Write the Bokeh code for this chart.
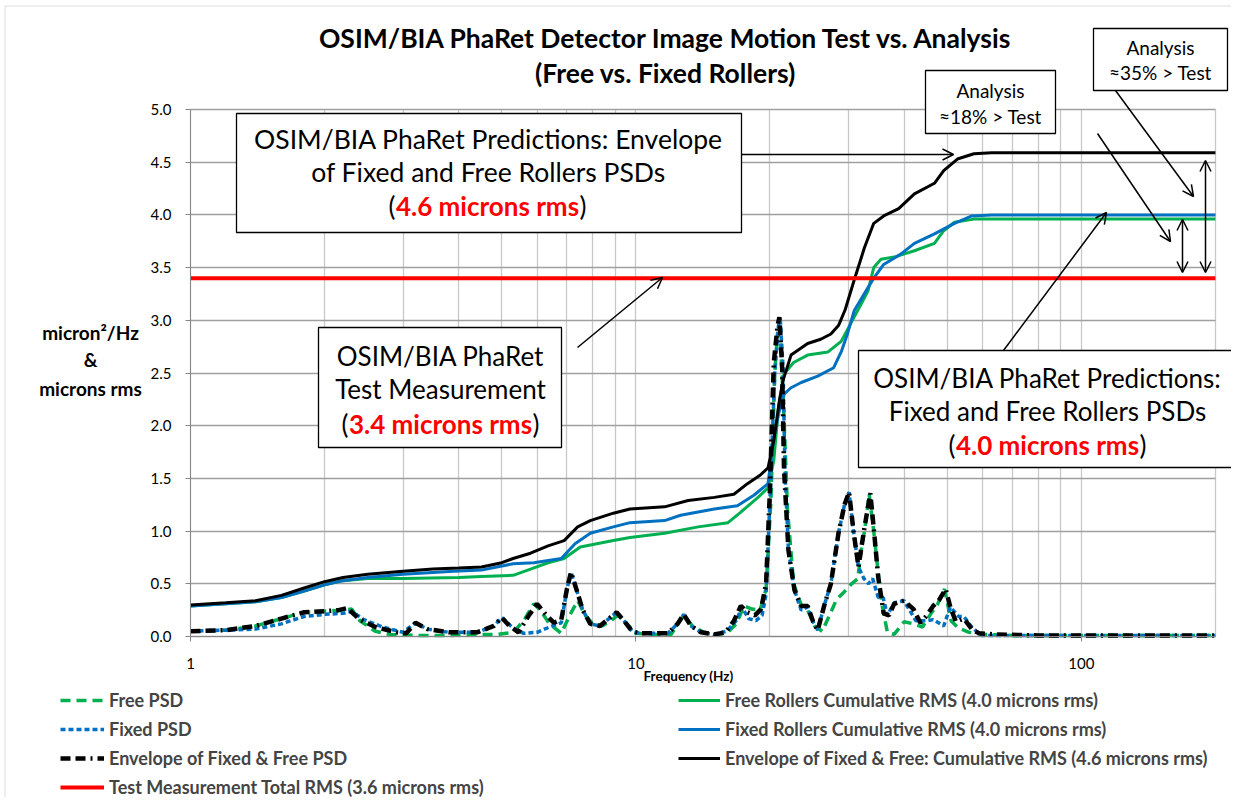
from bokeh.plotting import figure
from bokeh.models import (Range1d, FixedTicker, PrintfTickFormatter, NumeralTickFormatter,
                          Label, BoxAnnotation, Arrow, OpenHead, Legend, LegendItem)
from bokeh.embed import file_html
from bokeh.resources import INLINE

FONT = "Lato"

# ---------------- data ----------------
free_psd_f = [1.0, 1.2, 1.4, 1.6, 1.8, 2.0, 2.2, 2.3, 2.4, 2.6, 2.8, 3.2, 3.8, 4.4, 4.9, 5.3, 5.6, 5.9, 6.1,
              6.4, 6.8, 7.1, 7.4, 7.7, 8.0, 8.4, 8.8, 9.1, 9.5, 10.0, 11.0, 12.0, 12.8, 13.4, 14.2, 15.0, 16.0,
              16.8, 17.5, 18.2, 19.0, 19.6, 20.1, 20.5, 20.8, 21.1, 21.4, 21.9, 22.6, 23.5, 24.3, 25.2, 26.2,
              27.2, 28.2, 29.3, 30.5, 31.5, 32.0, 32.6, 33.4, 34.2, 35.0, 35.7, 36.7, 38.0, 40.0, 42.0, 44.0,
              46.0, 47.5, 49.3, 51.0, 53.0, 56.0, 60.0, 70.0, 100.0, 130.0, 160.0, 200.0]
free_psd_v = [0.05, 0.06, 0.10, 0.17, 0.23, 0.24, 0.25, 0.26, 0.15, 0.05, 0.02, 0.01, 0.01, 0.02, 0.02, 0.04,
              0.15, 0.31, 0.25, 0.12, 0.03, 0.20, 0.34, 0.20, 0.12, 0.10, 0.15, 0.20, 0.13, 0.03, 0.02, 0.02,
              0.20, 0.10, 0.04, 0.02, 0.03, 0.12, 0.29, 0.26, 0.25, 0.45, 1.30, 2.50, 2.88, 2.80, 2.30, 1.20,
              0.50, 0.30, 0.25, 0.10, 0.05, 0.20, 0.35, 0.42, 0.50, 0.55, 0.80, 1.00, 1.35, 1.00, 0.60, 0.30,
              0.04, 0.02, 0.14, 0.12, 0.09, 0.22, 0.30, 0.45, 0.15, 0.08, 0.04, 0.02, 0.01, 0.01, 0.01, 0.01,
              0.01]

fixed_psd_f = [1.0, 1.2, 1.4, 1.6, 1.8, 2.0, 2.2, 2.3, 2.45, 2.7, 3.0, 3.2, 3.4, 3.8, 4.4, 4.8, 5.0, 5.3, 5.6,
               6.0, 6.4, 6.8, 7.0, 7.15, 7.35, 7.6, 7.9, 8.3, 8.7, 9.05, 9.4, 9.8, 10.2, 11.0, 11.8, 12.4, 12.8,
               13.3, 14.0, 15.0, 16.0, 16.8, 17.3, 17.9, 18.6, 19.2, 19.6, 20.0, 20.5, 20.9, 21.1, 21.4, 21.6,
               22.0, 22.7, 23.5, 24.3, 25.0, 25.6, 26.5, 27.4, 28.5, 29.4, 30.1, 30.8, 31.6, 32.5, 33.3, 34.0,
               35.0, 35.9, 36.7, 38.0, 40.0, 42.5, 45.0, 46.5, 49.1, 50.8, 53.0, 54.5, 56.5, 59.5, 70.0, 100.0,
               130.0, 160.0, 200.0]
fixed_psd_v = [0.05, 0.06, 0.07, 0.12, 0.19, 0.21, 0.22, 0.24, 0.16, 0.09, 0.04, 0.13, 0.07, 0.04, 0.04, 0.10,
               0.18, 0.08, 0.03, 0.04, 0.09, 0.13, 0.45, 0.61, 0.45, 0.25, 0.12, 0.10, 0.17, 0.23, 0.15, 0.05,
               0.03, 0.03, 0.03, 0.12, 0.21, 0.10, 0.04, 0.02, 0.05, 0.15, 0.28, 0.17, 0.15, 0.20, 0.40, 1.30,
               2.50, 2.95, 3.00, 2.55, 1.60, 0.82, 0.44, 0.25, 0.28, 0.14, 0.06, 0.30, 0.50, 0.98, 1.25, 1.37,
               1.00, 0.66, 0.55, 0.50, 0.55, 0.37, 0.37, 0.20, 0.32, 0.34, 0.15, 0.15, 0.16, 0.10, 0.28, 0.19,
               0.19, 0.10, 0.01, 0.01, 0.01, 0.01, 0.01, 0.01]

env_psd_f = [1.0, 1.2, 1.4, 1.6, 1.8, 2.0, 2.15, 2.25, 2.4, 2.6, 2.9, 3.05, 3.2, 3.4, 3.8, 4.4, 4.8, 5.0, 5.2,
             5.45, 5.75, 6.0, 6.3, 6.55, 6.8, 7.0, 7.15, 7.35, 7.6, 7.9, 8.3, 8.7, 9.05, 9.4, 9.8, 10.2, 11.0,
             11.8, 12.4, 12.8, 13.3, 14.0, 15.0, 15.9, 16.6, 17.2, 17.8, 18.5, 19.1, 19.6, 20.0, 20.4, 20.8,
             21.0, 21.3, 21.5, 22.0, 22.7, 23.5, 24.3, 25.0, 25.6, 26.5, 27.4, 28.5, 29.4, 30.1, 30.8, 31.6,
             32.5, 33.6, 34.3, 35.0, 36.0, 37.0, 38.0, 40.0, 42.0, 43.5, 45.0, 46.5, 48.0, 49.6, 50.8, 52.3,
             54.5, 57.0, 59.0, 64.0, 80.0, 100.0, 130.0, 160.0, 200.0]
env_psd_v = [0.05, 0.06, 0.10, 0.17, 0.23, 0.24, 0.25, 0.27, 0.16, 0.09, 0.04, 0.03, 0.13, 0.07, 0.04, 0.04,
             0.10, 0.18, 0.10, 0.04, 0.20, 0.31, 0.20, 0.13, 0.16, 0.45, 0.61, 0.45, 0.25, 0.12, 0.10, 0.17,
             0.23, 0.15, 0.05, 0.03, 0.03, 0.03, 0.12, 0.21, 0.10, 0.04, 0.02, 0.04, 0.15, 0.29, 0.23, 0.20,
             0.26, 0.50, 1.40, 2.60, 2.95, 3.03, 2.55, 1.60, 0.82, 0.44, 0.29, 0.29, 0.14, 0.06, 0.30, 0.50,
             0.98, 1.25, 1.37, 1.00, 0.66, 1.00, 1.36, 0.97, 0.56, 0.22, 0.20, 0.31, 0.34, 0.26, 0.13, 0.20,
             0.29, 0.35, 0.45, 0.28, 0.14, 0.17, 0.06, 0.03, 0.02, 0.01, 0.01, 0.01, 0.01, 0.01]

free_cum_f = [1.0, 1.2, 1.4, 1.6, 1.8, 2.0, 2.2, 2.5, 3.0, 4.0, 4.5, 5.3, 5.8, 6.35, 6.9, 7.5, 8.9, 9.7, 11.6,
              13.8, 16.1, 17.2, 18.8, 19.8, 20.4, 20.9, 21.5, 22.6, 24.3, 27.0, 28.9, 30.9, 32.0, 33.2, 34.2,
              35.5, 38.0, 42.2, 46.8, 49.1, 51.9, 57.4, 80.0, 100.0, 150.0, 200.0]
free_cum_v = [0.29, 0.31, 0.33, 0.37, 0.43, 0.49, 0.53, 0.55, 0.55, 0.56, 0.57, 0.58, 0.64, 0.70, 0.74, 0.85,
              0.91, 0.94, 0.98, 1.04, 1.08, 1.18, 1.32, 1.41, 1.67, 2.17, 2.49, 2.60, 2.67, 2.70, 2.80, 3.03,
              3.15, 3.28, 3.50, 3.58, 3.60, 3.66, 3.73, 3.85, 3.93, 3.96, 3.96, 3.96, 3.96, 3.96]

fixed_cum_f = [1.0, 1.2, 1.4, 1.6, 1.8, 2.0, 2.2, 2.5, 3.0, 3.9, 4.5, 5.3, 5.9, 6.8, 7.3, 7.9, 8.9, 9.7, 11.6,
               12.6, 15.0, 16.9, 18.4, 19.8, 20.3, 20.9, 21.5, 22.3, 23.5, 25.6, 27.8, 28.9, 29.9, 30.9, 33.2,
               34.2, 36.0, 39.4, 42.2, 46.8, 51.9, 56.8, 62.9, 80.0, 100.0, 150.0, 200.0]
fixed_cum_v = [0.29, 0.31, 0.33, 0.37, 0.43, 0.49, 0.53, 0.56, 0.59, 0.62, 0.63, 0.69, 0.70, 0.74, 0.88, 0.98,
               1.04, 1.08, 1.10, 1.15, 1.21, 1.24, 1.34, 1.45, 1.83, 2.11, 2.30, 2.36, 2.41, 2.47, 2.55, 2.70,
               2.88, 3.09, 3.31, 3.40, 3.53, 3.63, 3.73, 3.82, 3.92, 3.99, 4.00, 4.00, 4.00, 4.00, 4.00]

env_cum_f = [1.0, 1.2, 1.4, 1.6, 1.8, 2.0, 2.2, 2.5, 3.0, 3.5, 4.0, 4.5, 5.0, 5.3, 5.8, 6.35, 6.9, 7.4, 7.9,
             8.9, 9.7, 11.6, 13.1, 15.0, 16.6, 17.8, 19.0, 19.8, 20.4, 21.0, 21.4, 22.3, 24.3, 26.0, 27.4, 28.5,
             29.5, 30.9, 32.6, 34.2, 36.0, 38.9, 42.2, 46.8, 49.1, 52.7, 57.4, 62.9, 80.0, 100.0, 150.0, 200.0]
env_cum_v = [0.30, 0.32, 0.34, 0.39, 0.46, 0.52, 0.56, 0.59, 0.62, 0.64, 0.65, 0.66, 0.70, 0.74, 0.79, 0.86,
             0.91, 1.04, 1.10, 1.17, 1.21, 1.23, 1.29, 1.32, 1.35, 1.45, 1.53, 1.60, 1.86, 2.24, 2.43, 2.67,
             2.78, 2.82, 2.87, 2.95, 3.10, 3.38, 3.69, 3.92, 3.99, 4.06, 4.20, 4.30, 4.42, 4.53, 4.58, 4.59,
             4.59, 4.59, 4.59, 4.59]

test_f = [1.0, 200.0]
test_level = [3.4, 3.4]

x_major_ticks = [1, 10, 100]
x_minor_ticks = [2, 3, 4, 5, 6, 7, 8, 9, 20, 30, 40, 50, 60, 70, 80, 90, 200]
y_ticks = [0.0, 0.5, 1.0, 1.5, 2.0, 2.5, 3.0, 3.5, 4.0, 4.5, 5.0]
x_bounds = (1, 200)
y_bounds = (0, 5)

title_lines = ["OSIM/BIA PhaRet Detector Image Motion Test vs. Analysis", "(Free vs. Fixed Rollers)"]
y_label_lines = ["micron\u00b2/Hz", "&", "microns rms"]

# ---------------- layout geometry (pixels) ----------------
W, H = 1231, 797          # canvas
PX_X1, PX_Y0 = 190, 636   # pixel of x = 1 and of y = 0
DEC, UNIT = 445.4, 105.4  # pixels per decade / per y unit

p = figure(width=W, height=H, x_axis_type="log",
           x_range=Range1d(10 ** (-PX_X1 / DEC), 10 ** ((W - PX_X1) / DEC)),
           y_range=Range1d(-(H - PX_Y0) / UNIT, PX_Y0 / UNIT),
           output_backend="svg", toolbar_location=None,
           min_border_left=0, min_border_right=0, min_border_top=0, min_border_bottom=0)
p.outline_line_color = None
p.background_fill_color = "white"
p.border_fill_color = "white"

p.xaxis.fixed_location = 0
p.xaxis.bounds = x_bounds
p.xaxis.ticker = FixedTicker(ticks=x_major_ticks, minor_ticks=x_minor_ticks)
p.xaxis.formatter = PrintfTickFormatter(format="%d")
p.xaxis.minor_tick_line_color = None
p.xaxis.major_tick_in = 0
p.xaxis.major_tick_out = 5
p.xaxis.axis_line_color = "#868686"
p.xaxis.major_tick_line_color = "#868686"
p.xaxis.major_label_text_font = FONT
p.xaxis.major_label_text_font_size = "15px"
p.xaxis.major_label_text_color = "#000000"
p.xaxis.major_label_standoff = 16

p.yaxis.fixed_location = 1
p.yaxis.bounds = y_bounds
p.yaxis.ticker = FixedTicker(ticks=y_ticks)
p.yaxis.formatter = NumeralTickFormatter(format="0.0")
p.yaxis.minor_tick_line_color = None
p.yaxis.major_tick_in = 0
p.yaxis.major_tick_out = 5
p.yaxis.axis_line_color = "#868686"
p.yaxis.major_tick_line_color = "#868686"
p.yaxis.major_label_text_font = FONT
p.yaxis.major_label_text_font_size = "15px"
p.yaxis.major_label_text_color = "#000000"
p.yaxis.major_label_standoff = 14

p.xgrid.bounds = x_bounds
p.xgrid.cross_bounds = y_bounds
p.xgrid.grid_line_color = "#c8c8c8"
p.xgrid.minor_grid_line_color = "#c8c8c8"
p.xgrid.grid_line_width = 1.3
p.xgrid.minor_grid_line_width = 1.3
p.ygrid.bounds = y_bounds
p.ygrid.cross_bounds = x_bounds
p.ygrid.grid_line_color = "#a0a0a0"
p.ygrid.grid_line_width = 1.3

# ---------------- series ----------------
r_free_psd = p.line(free_psd_f, free_psd_v, line_color="#00B050", line_width=3.5, line_dash="10 6")
r_free_cum = p.line(free_cum_f, free_cum_v, line_color="#00B050", line_width=3)
r_fixed_psd = p.line(fixed_psd_f, fixed_psd_v, line_color="#0070C0", line_width=3.5, line_dash="5 3")
r_fixed_cum = p.line(fixed_cum_f, fixed_cum_v, line_color="#0070C0", line_width=3)
r_env_psd = p.line(env_psd_f, env_psd_v, line_color="#000000", line_width=4.5, line_dash="10 5 10 5 2 5")
r_env_cum = p.line(env_cum_f, env_cum_v, line_color="#000000", line_width=3)
r_test = p.line(test_f, test_level, line_color="#FF0000", line_width=4)


def sx(X):
    return X


def sy(Y):
    return H - Y


def txt(X, Y, s, size=26, color="#000000", bold=False, align="center"):
    p.add_layout(Label(x=sx(X), y=sy(Y), x_units="screen", y_units="screen", text=s,
                       text_align=align, text_baseline="middle", text_font=FONT,
                       text_font_size=f"{size}px", text_color=color,
                       text_font_style="bold" if bold else "normal"))


def paren_line(cx, Y, s, size=26):
    w = 7.0 * size  # approximate width of the bold red text
    txt(cx, Y, s, size=size, color="#FF0000", bold=True)
    txt(cx - w / 2 - 1, Y, "(", size=size, align="right")
    txt(cx + w / 2 + 1, Y, ")", size=size, align="left")


def box(X0, Y0, X1, Y1):
    p.add_layout(BoxAnnotation(left=sx(X0), right=sx(X1), top=sy(Y0), bottom=sy(Y1),
                               left_units="screen", right_units="screen",
                               top_units="screen", bottom_units="screen",
                               fill_color="white", fill_alpha=1.0,
                               line_color="#000000", line_width=1.3, line_alpha=1.0))


def arrow(X0, Y0, X1, Y1, both=False):
    head = dict(size=11, line_color="#000000", line_width=1.5)
    p.add_layout(Arrow(x_start=sx(X0), y_start=sy(Y0), x_end=sx(X1), y_end=sy(Y1),
                       start_units="screen", end_units="screen",
                       start=OpenHead(**head) if both else None, end=OpenHead(**head),
                       line_color="#000000", line_width=1.5))


# outer chart border (left and top edges visible)
p.add_layout(BoxAnnotation(left=sx(4.5), right=sx(1245), top=sy(5.5), bottom=sy(810),
                           left_units="screen", right_units="screen", top_units="screen", bottom_units="screen",
                           fill_alpha=0, line_color="#8c8c8c", line_width=1))

# title
txt(666, 37, title_lines[0], size=26.5, bold=True)
txt(665, 72, title_lines[1], size=26.5, bold=True)

# y axis label
txt(90, 332, y_label_lines[0], size=19, bold=True)
txt(90, 359, y_label_lines[1], size=19, bold=True)
txt(90, 388, y_label_lines[2], size=19, bold=True)

# x axis label
txt(688, 675, "Frequency (Hz)", size=13.5, bold=True)

# arrows
arrow(741, 154, 953, 154)
arrow(577, 347, 662, 277)
arrow(1003, 350, 1106, 212)
arrow(1097, 133, 1170, 241)
arrow(1115, 90, 1193, 196)
arrow(1182, 219, 1182, 272, both=True)
arrow(1205, 160, 1205, 272, both=True)

# annotation boxes
box(236, 113, 741, 232)
txt(488, 138, "OSIM/BIA PhaRet Predictions: Envelope", size=26.5)
txt(488, 171, "of Fixed and Free Rollers PSDs", size=26.5)
paren_line(487, 205, "4.6 microns rms")

box(318, 327, 561, 447)
txt(440, 355, "OSIM/BIA PhaRet")
txt(440, 388, "Test Measurement")
paren_line(440, 423, "3.4 microns rms")

box(858, 350, 1245, 467)
txt(1047, 377, "OSIM/BIA PhaRet Predictions:")
txt(1047, 410, "Fixed and Free Rollers PSDs")
paren_line(1047, 444, "4.0 microns rms")

box(925, 70, 1055, 133)
txt(990, 90, "Analysis", size=19)
txt(990, 116, "\u224818% > Test", size=19)

box(1093, 28, 1227, 90)
txt(1160, 47, "Analysis", size=19)
txt(1160, 72, "\u224835% > Test", size=19)

# legends (two columns below the plot)
leg_style = dict(glyph_height=20, label_height=20, spacing=7, padding=0, margin=0,
                 border_line_color=None, background_fill_alpha=0, label_standoff=5,
                 label_text_font=FONT, label_text_font_style="bold", label_text_font_size="18px")
leg1 = Legend(items=[LegendItem(label="Free PSD", renderers=[r_free_psd]),
                     LegendItem(label="Fixed PSD", renderers=[r_fixed_psd]),
                     LegendItem(label="Envelope of Fixed & Free PSD", renderers=[r_env_psd]),
                     LegendItem(label="Test Measurement Total RMS (3.6 microns rms)", renderers=[r_test])],
              location=(sx(60), sy(798)), glyph_width=44, **leg_style)
leg2 = Legend(items=[LegendItem(label="Free Rollers Cumulative RMS (4.0 microns rms)", renderers=[r_free_cum]),
                     LegendItem(label="Fixed Rollers Cumulative RMS (4.0 microns rms)", renderers=[r_fixed_cum]),
                     LegendItem(label="Envelope of Fixed & Free: Cumulative RMS (4.6 microns rms)",
                                renderers=[r_env_cum])],
              location=(sx(678), sy(769)), glyph_width=42, **leg_style)
p.add_layout(leg1)
p.add_layout(leg2)

open("out.html", "w").write(file_html(p, INLINE))
